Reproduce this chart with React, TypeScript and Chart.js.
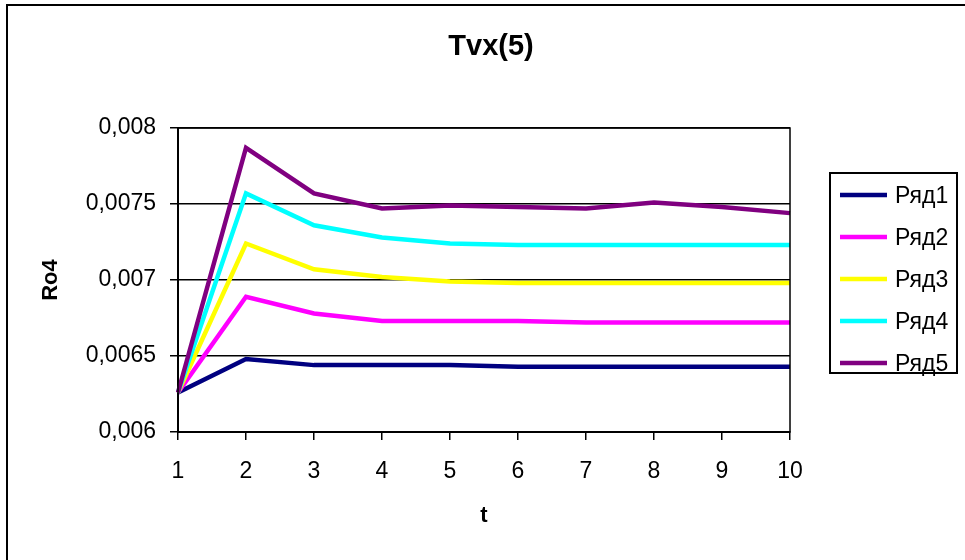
import React, { useEffect, useRef } from "react";
import { Chart, registerables } from "chart.js";

Chart.register(...registerables);

const tLabels = ["1", "2", "3", "4", "5", "6", "7", "8", "9", "10"];
const seriesNames = ["Ряд1", "Ряд2", "Ряд3", "Ряд4", "Ряд5"];
const seriesColors = ["#000080", "#FF00FF", "#FFFF00", "#00FFFF", "#800080"];
const ryad1 = [0.00626, 0.00648, 0.00644, 0.00644, 0.00644, 0.00643, 0.00643, 0.00643, 0.00643, 0.00643];
const ryad2 = [0.00626, 0.00689, 0.00678, 0.00673, 0.00673, 0.00673, 0.00672, 0.00672, 0.00672, 0.00672];
const ryad3 = [0.00626, 0.00724, 0.00707, 0.00702, 0.00699, 0.00698, 0.00698, 0.00698, 0.00698, 0.00698];
const ryad4 = [0.00626, 0.00757, 0.00736, 0.00728, 0.00724, 0.00723, 0.00723, 0.00723, 0.00723, 0.00723];
const ryad5 = [0.00626, 0.00787, 0.00757, 0.00747, 0.00749, 0.00748, 0.00747, 0.00751, 0.00748, 0.00744];
const seriesValues = [ryad1, ryad2, ryad3, ryad4, ryad5];
const titleText = "Tvx(5)";
const yTitle = "Ro4";
const xTitle = "t";
const yMin = 0.006;
const yMax = 0.008;
const yStep = 0.0005;

const FONT = "'Liberation Sans', Arial, sans-serif";

const framePlugin = {
  id: "frameAndLegend",
  afterDraw(chart: any) {
    const ctx = chart.ctx;
    const ca = chart.chartArea;
    ctx.save();
    // outer frame (top + left visible)
    ctx.strokeStyle = "#000";
    ctx.lineWidth = 2;
    ctx.beginPath();
    ctx.moveTo(7, 562);
    ctx.lineTo(7, 5);
    ctx.lineTo(967, 5);
    ctx.stroke();
    // plot area border
    ctx.lineWidth = 1.5;
    ctx.strokeRect(ca.left, ca.top, ca.right - ca.left, ca.bottom - ca.top);
    // title
    ctx.fillStyle = "#000";
    ctx.font = `bold 29px ${FONT}`;
    ctx.textAlign = "center";
    ctx.textBaseline = "middle";
    ctx.fillText(titleText, 491, 47);
    // legend
    ctx.lineWidth = 2;
    ctx.strokeRect(830, 173, 127, 200);
    ctx.font = `23px ${FONT}`;
    ctx.textAlign = "left";
    seriesNames.forEach((name, i) => {
      const y = 195 + i * 42;
      ctx.strokeStyle = seriesColors[i];
      ctx.lineWidth = 4.5;
      ctx.beginPath();
      ctx.moveTo(840, y);
      ctx.lineTo(887, y);
      ctx.stroke();
      ctx.fillStyle = "#000";
      ctx.fillText(name, 895, y + 2);
    });
    ctx.restore();
  },
};

export default function App() {
  const ref = useRef<HTMLCanvasElement>(null);
  useEffect(() => {
    if (!ref.current) return;
    const chart = new Chart(ref.current, {
      type: "line",
      data: {
        labels: tLabels,
        datasets: seriesValues.map((vals, i) => ({
          label: seriesNames[i],
          data: vals,
          borderColor: seriesColors[i],
          backgroundColor: seriesColors[i],
          borderWidth: 4.5,
          pointRadius: 0,
          tension: 0,
          fill: false,
          order: 5 - i,
        })),
      },
      options: {
        animation: false,
        responsive: false,
        maintainAspectRatio: false,
        layout: { padding: { left: 0, top: 128, right: 175, bottom: 0 } },
        plugins: {
          legend: { display: false },
          title: { display: false },
          tooltip: { enabled: false },
        },
        scales: {
          x: {
            type: "category",
            offset: false,
            grid: { display: true, drawOnChartArea: false, color: "#000", lineWidth: 1.5, tickLength: 8 },
            border: { display: true, color: "#000", width: 2 },
            ticks: { color: "#000", font: { family: FONT, size: 23 }, padding: 18, maxRotation: 0, autoSkip: false },
            title: { display: true, text: xTitle, color: "#000", font: { family: FONT, size: 22, weight: "bold" }, padding: { top: 0, bottom: 31 } },
            afterFit(scale: any) { scale.height = 128; },
          },
          y: {
            type: "linear",
            min: yMin,
            max: yMax,
            grid: { color: "#000", lineWidth: 1.5, tickLength: 8 },
            border: { display: true, color: "#000", width: 2 },
            ticks: {
              stepSize: yStep,
              color: "#000",
              font: { family: FONT, size: 23 },
              padding: 14,
              callback: (v: any) => String(Number(Number(v).toFixed(5))).replace(".", ","),
            },
            title: { display: true, text: yTitle, color: "#000", font: { family: FONT, size: 22, weight: "bold" }, padding: { top: 38, bottom: 0 } },
            afterFit(scale: any) { scale.width = 178; },
          },
        },
      },
      plugins: [framePlugin],
    });
    return () => chart.destroy();
  }, []);
  return (
    <div style={{ position: "absolute", left: 0, top: 0, width: 965, height: 560, background: "#fff" }}>
      <canvas ref={ref} width={965} height={560} style={{ display: "block" }} />
    </div>
  );
}
